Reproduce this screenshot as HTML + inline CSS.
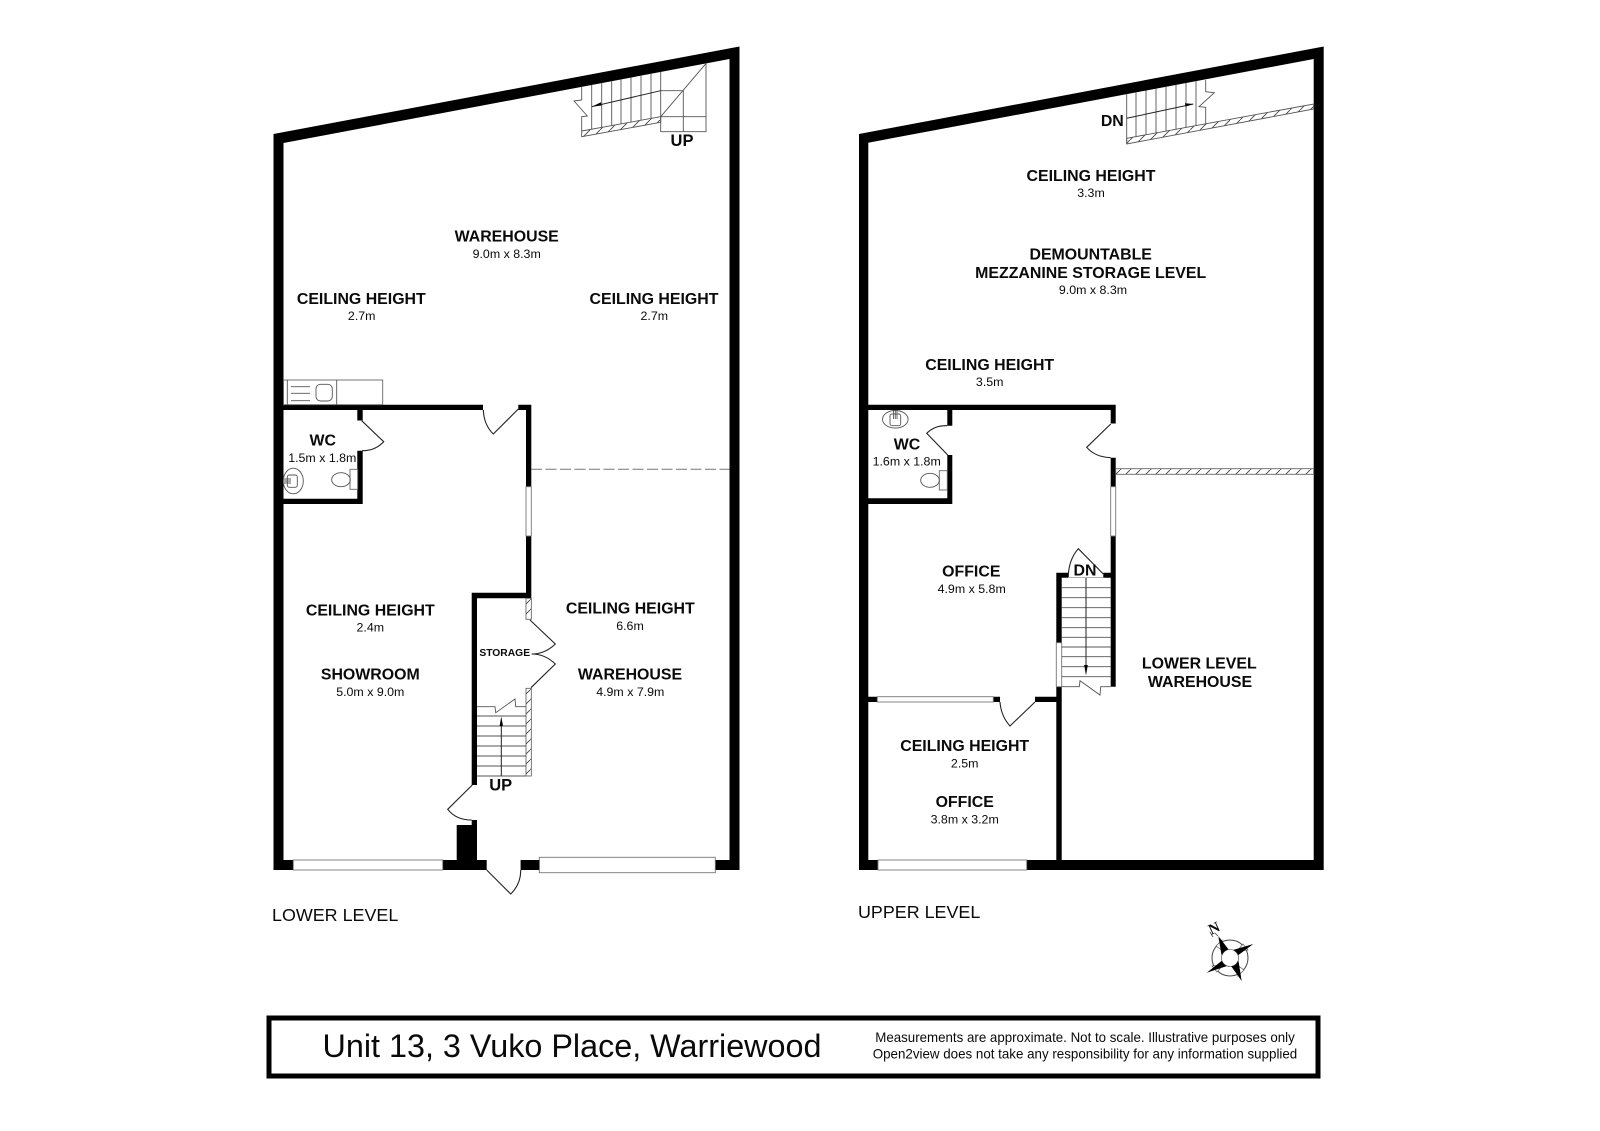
<!DOCTYPE html>
<html>
<head>
<meta charset="utf-8">
<title>Unit 13, 3 Vuko Place, Warriewood</title>
<style>
html,body{margin:0;padding:0;background:#fff;}
svg{display:block;}
text{font-family:"Liberation Sans",sans-serif;fill:#0a0a0a;text-anchor:middle;}
.b{font-weight:bold;font-size:15.9px;}
.d{font-size:12.4px;}
.l{font-size:17.9px;text-anchor:start;}
.t{stroke:#555;stroke-width:.9;fill:none;}
.f{stroke:#666;stroke-width:.9;fill:#fff;}
.w{fill:#fff;stroke:#777;stroke-width:.9;}
.dr{stroke:#222;stroke-width:1.1;fill:none;}
</style>
</head>
<body>
<svg width="1600" height="1131" viewBox="0 0 1600 1131" xmlns="http://www.w3.org/2000/svg">
<defs>
<pattern id="h" width="10" height="10" patternUnits="userSpaceOnUse">
<path d="M-1 11L11 -1" stroke="#444" stroke-width=".9" fill="none"/>
</pattern>
</defs>
<rect width="1600" height="1131" fill="#fff"/>

<!-- LOWER LEVEL walls -->
<path fill-rule="evenodd" fill="#000" d="M273.5 134L739.5 46.5V870H273.5ZM283.5 143V860H729.5V59Z"/>
<path fill="#000" d="M283 404.7H483V410H283ZM518.3 404.7H531.3V410H518.3ZM526 405H531.3V487H526ZM526 536H531.3V598H526ZM357.3 405H362.7V420.5H357.3ZM357.3 450.7H362.7V504H357.3ZM283 498.7H362.7V504H283ZM471.7 592.7H531.3V598.3H471.7ZM471.7 592.7H477V785H471.7ZM471.7 820H477V870H471.7ZM456.7 825H477V870H456.7Z"/>
<rect x="486.7" y="859" width="34" height="12" fill="#fff"/>
<rect class="w" x="293.3" y="860" width="149.4" height="10"/>
<rect class="w" x="539.3" y="857.3" width="176" height="15.4"/>
<rect class="w" x="526" y="486.7" width="5.3" height="49.3"/>
<rect x="520.7" y="860" width="18.6" height="10" fill="#000"/>

<!-- Lower doors -->
<path class="dr" d="M518.3 409L493.3 434Q484 425 483.3 410"/>
<path class="dr" d="M361.7 420.7L383.7 441.7Q375 451 362 450.7"/>
<path class="dr" d="M472.3 785L447.7 809.3Q456 820 471.7 820"/>
<path class="dr" d="M486.7 870L510.7 894Q521 884 520.7 870"/>
<path class="dr" d="M530 620L555.3 644Q545 654 531.7 654"/>
<path class="dr" d="M531 687.7L555.3 664Q545 654 531.7 654"/>
<line x1="531" y1="469.3" x2="729.5" y2="469.3" stroke="#777" stroke-width="1" stroke-dasharray="11 3.5"/>

<!-- Kitchen -->
<rect class="f" x="283.5" y="380" width="99.2" height="24.7"/>
<path class="t" d="M336.7 380V404.7M287.3 380V404.7M291 386.7H310M291 393.3H310M291 400.7H310"/>
<rect class="t" x="316" y="384.3" width="16.3" height="16.7" rx="4.5"/>
<!-- Lower WC fixtures -->
<ellipse class="t" cx="293.3" cy="481" rx="10" ry="12.8"/>
<rect class="t" x="287.3" y="475" width="10" height="12.3" rx="2"/>
<path d="M284 479H291M284 481H291M284 483H291" stroke="#555" stroke-width=".9"/>
<rect class="f" x="350" y="469.3" width="7.7" height="20"/>
<ellipse class="t" cx="341" cy="479.7" rx="9.3" ry="7"/>

<!-- Lower storage stairs -->
<rect x="526" y="598.3" width="5.3" height="21" fill="url(#h)" stroke="#555" stroke-width=".8"/>
<rect x="526" y="688.3" width="5.3" height="87.7" fill="url(#h)" stroke="#555" stroke-width=".8"/>
<path class="t" d="M477 716H526M477 726H526M477 736H526M477 746H526M477 756H526M477 766H526M477 776H526"/>
<path class="t" d="M477 706.7H495L495.7 712.7L515 699L515.7 706.7H526"/>
<path d="M501.3 776V722" stroke="#222" stroke-width="1" fill="none"/>
<path d="M501.3 716.5L503 726H499.6Z" fill="#000"/>

<!-- Lower top stairs -->
<path class="t" d="M591.7 85V129.2M601.7 83V127.4M611.7 81.2V125.6M621 79.4V123.9M631 77.6V122.1M641 75.7V120.3M651 73.8V118.5M660.7 72V131.7H706V63.4M683.3 90.7V131.7M660.7 116.7H706M660.7 116.7L706 63.4M660.7 90.7H683.3"/>
<path class="t" d="M581.7 86.8V100L574 101L587.3 116L581.7 116.7V131"/>
<polygon points="581.7,131 660.7,116.7 660.7,122.3 581.7,136.7" fill="url(#h)" stroke="#555" stroke-width=".9"/>
<path d="M660.7 90.7L591.7 106.7" stroke="#222" stroke-width="1" fill="none"/>
<path d="M591.7 106.7L601 102.3L601.4 105.5Z" fill="#000"/>

<!-- UPPER LEVEL walls -->
<path fill-rule="evenodd" fill="#000" d="M859 134L1323.7 46.5V870H859ZM868.3 142.7V860H1313.7V59Z"/>
<path fill="#000" d="M868 404.7H1115.7V410H868ZM1110.7 405H1115.7V423.5H1110.7ZM1110.7 457.7H1115.7V487H1110.7ZM1110.7 536H1115.7V686.7H1110.7ZM947.3 405H952.3V425.7H947.3ZM947.3 455H952.3V504H947.3ZM868 498.3H952.3V504H868ZM1056.3 572.7H1061.7V643H1056.3ZM1056.3 686.7H1061.7V860H1056.3ZM1056.3 572.7H1068.3V577.7H1056.3ZM1103.3 572.7H1115.7V577.7H1103.3ZM868 696.7H877.3V702H868ZM993.3 696.7H1000V702H993.3ZM1035 696.7H1061.7V702H1035Z"/>
<rect class="w" x="877.3" y="696.7" width="116" height="5.3"/>
<rect class="w" x="878" y="860" width="148.7" height="10"/>
<rect class="w" x="1110.7" y="486.7" width="5" height="49.3"/>
<rect class="w" x="1056.3" y="642.7" width="5.4" height="44"/>

<!-- Upper doors -->
<path class="dr" d="M1110.7 424L1086.7 447.3Q1095 457 1110.7 457.7"/>
<path class="dr" d="M947.7 455L926.7 433.3Q935 425 947.3 425.7"/>
<path class="dr" d="M1035 702L1010 726Q1001 716 1000 702"/>
<path class="dr" d="M1068.3 577Q1068.5 560 1078.3 548.7L1103.3 574"/>
<line x1="1068.3" y1="577.4" x2="1103.3" y2="577.4" stroke="#999" stroke-width=".8"/>

<!-- Upper WC fixtures -->
<ellipse class="t" cx="895.3" cy="419.3" rx="12.8" ry="8.8"/>
<rect class="t" x="890" y="414" width="10.7" height="11.7" rx="2"/>
<path d="M893.5 410V419M895.3 410V419M897 410V419" stroke="#555" stroke-width=".9"/>
<rect class="f" x="939.3" y="470.7" width="8" height="19.3"/>
<ellipse class="t" cx="930" cy="480.3" rx="9.3" ry="7"/>

<!-- Mezzanine hatch -->
<rect x="1115.7" y="468.7" width="198" height="5.6" fill="url(#h)" stroke="#666" stroke-width=".9"/>
<polygon points="1126.7,138.3 1313.7,104 1313.7,109 1126.7,144" fill="url(#h)" stroke="#555" stroke-width=".9"/>
<path class="t" d="M1126.7 94.1V144M1136 92.4V136.6M1146 90.5V134.8M1156 88.6V132.9M1166 86.8V131.1M1176 84.9V129.2M1186 83V127.4M1196 81.1V125.6"/>
<path class="t" d="M1205.7 80V91.7L1214.3 92.7L1199 106.7L1205.7 107.3V123.8"/>
<path d="M1126.7 118.3L1193.3 104" stroke="#222" stroke-width="1" fill="none"/>
<path d="M1193.5 104L1185 103.3L1185.6 106.6Z" fill="#000"/>

<!-- Upper office stairs -->
<path class="t" d="M1061.7 587.7H1110.7M1061.7 597.7H1110.7M1061.7 607.7H1110.7M1061.7 617.7H1110.7M1061.7 627.7H1110.7M1061.7 637.3H1110.7M1061.7 647H1110.7M1061.7 656.7H1110.7M1061.7 666.7H1110.7M1061.7 676.7H1110.7"/>
<path class="t" d="M1061.7 686.7H1079.3L1080 680.7L1100 695L1100.7 686.7H1110.7"/>
<path d="M1086 578V670" stroke="#222" stroke-width="1" fill="none"/>
<path d="M1086 675.5L1084.2 665H1087.8Z" fill="#000"/>

<!-- Labels lower -->
<text class="b" x="506.7" y="241.7">WAREHOUSE</text>
<text class="d" x="506.7" y="258">9.0m x 8.3m</text>
<text class="b" x="361.3" y="304">CEILING HEIGHT</text>
<text class="d" x="361.7" y="320">2.7m</text>
<text class="b" x="654" y="304">CEILING HEIGHT</text>
<text class="d" x="654.3" y="320">2.7m</text>
<text class="b" x="322.7" y="445.7">WC</text>
<text class="d" x="322.3" y="462">1.5m x 1.8m</text>
<text class="b" x="370.3" y="615.7">CEILING HEIGHT</text>
<text class="d" x="370.3" y="631.7">2.4m</text>
<text class="b" x="370.3" y="679.7">SHOWROOM</text>
<text class="d" x="370.3" y="696">5.0m x 9.0m</text>
<text class="b" x="630.3" y="613.7">CEILING HEIGHT</text>
<text class="d" x="630" y="630">6.6m</text>
<text class="b" x="630" y="679.7">WAREHOUSE</text>
<text class="d" x="630.3" y="696">4.9m x 7.9m</text>
<text x="504.7" y="656" style="font-weight:bold;font-size:10.3px">STORAGE</text>
<text class="b" x="500.7" y="790.7" style="font-size:16.5px">UP</text>
<text class="b" x="682" y="146" style="font-size:16.5px">UP</text>
<text class="l" x="272" y="921">LOWER LEVEL</text>

<!-- Labels upper -->
<text class="b" x="1112.3" y="126">DN</text>
<text class="b" x="1091" y="181">CEILING HEIGHT</text>
<text class="d" x="1091" y="197">3.3m</text>
<text class="b" x="1090.7" y="259.4">DEMOUNTABLE</text>
<text class="b" x="1090.7" y="277.8">MEZZANINE STORAGE LEVEL</text>
<text class="d" x="1093" y="293.8">9.0m x 8.3m</text>
<text class="b" x="989.7" y="370">CEILING HEIGHT</text>
<text class="d" x="989.7" y="386">3.5m</text>
<text class="b" x="907" y="449.3">WC</text>
<text class="d" x="906.7" y="465.3">1.6m x 1.8m</text>
<text class="b" x="971.3" y="576.7">OFFICE</text>
<text class="d" x="971.7" y="593">4.9m x 5.8m</text>
<text class="b" x="1085" y="575.6">DN</text>
<text class="b" x="1199.3" y="668.6">LOWER LEVEL</text>
<text class="b" x="1200" y="686.8">WAREHOUSE</text>
<text class="b" x="964.7" y="751">CEILING HEIGHT</text>
<text class="d" x="964.7" y="767.7">2.5m</text>
<text class="b" x="964.7" y="807">OFFICE</text>
<text class="d" x="964.7" y="823.3">3.8m x 3.2m</text>
<text class="l" x="858" y="918">UPPER LEVEL</text>

<!-- Compass -->
<circle cx="1230" cy="958" r="18" fill="none" stroke="#444" stroke-width="1"/>
<path d="M1237 951L1248 950L1243 944ZM1223 951L1222 940L1216 946ZM1223 965L1212 966L1217 972ZM1237 965L1238 976L1244 970Z" fill="#fff" stroke="#555" stroke-width=".7"/>
<polygon points="1218.3,936 1229,950 1221.5,955" fill="#000"/>
<polygon points="1253.3,944 1238.5,955 1233,950" fill="#000"/>
<polygon points="1241.7,981 1231,966 1238.5,961" fill="#000"/>
<polygon points="1206.7,972.7 1221.5,961 1227,966" fill="#000"/>
<circle cx="1230" cy="958" r="8.5" fill="#fff" stroke="#333" stroke-width=".6"/>
<path d="M1210 932L1213 937M1215 933L1218 936" stroke="#444" stroke-width=".8"/>
<text x="1214" y="933" transform="rotate(-25 1214 928)" style="font-family:'Liberation Serif',serif;font-weight:bold;font-size:15px">N</text>

<!-- Title block -->
<rect x="269" y="1018" width="1049" height="58" fill="#fff" stroke="#000" stroke-width="5"/>
<text x="572" y="1057" style="font-size:32.35px">Unit 13, 3 Vuko Place, Warriewood</text>
<text x="1085" y="1042" textLength="419.5" lengthAdjust="spacingAndGlyphs" style="font-size:14px">Measurements are approximate. Not to scale. Illustrative purposes only</text>
<text x="1085" y="1058.4" textLength="424.5" lengthAdjust="spacingAndGlyphs" style="font-size:14px">Open2view does not take any responsibility for any information supplied</text>
</svg>
</body>
</html>
